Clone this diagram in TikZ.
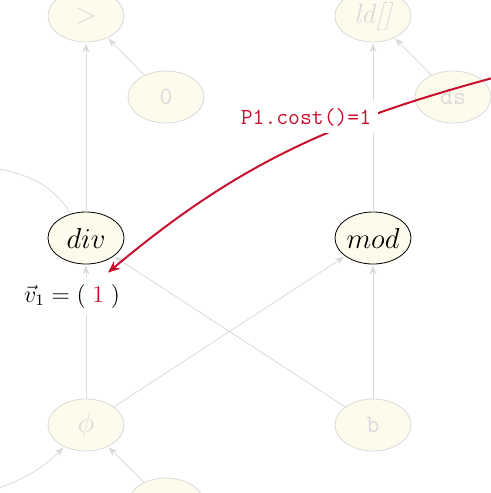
\documentclass[tikz,border=0pt]{standalone}
\usepackage{tikz}
\usetikzlibrary{arrows.meta,shapes.geometric}
\definecolor{costred}{RGB}{200,16,46}
\definecolor{nodefill}{RGB}{253,251,236}
\definecolor{faded}{RGB}{218,218,218}
\def\opwidth{38pt}

\begin{document}
\begin{tikzpicture}[x=0.5pt, y=-0.5pt, shorten >= 0.5pt, ->, draw=faded, >={Stealth[length=4.5pt,width=3.5pt]}]
        \tikzstyle{op}=[ellipse,fill=nodefill,minimum width=\opwidth,minimum height=26pt,inner sep=0pt,font=\fontsize{14}{16}\selectfont];
        \tikzstyle{faded op}=[op, draw=faded, text=faded];
        \tikzstyle{live op}=[op, draw=black];
        \tikzstyle{tt}=[font=\ttfamily\fontsize{12.5}{14}\selectfont];
        \tikzstyle{annot}=[fill=white, inner sep=3.5pt, font=\fontsize{12}{14}\selectfont];
        \useasboundingbox (0,0) rectangle (491,493);

        % faded neighbourhood
        \node[faded op] (gt) at (86,16) {$>$};
        \node[faded op,tt] (zero) at (166,97) {0};
        \node[faded op] (ld) at (373,16) {\itshape ld[]};
        \node[faded op,tt] (ds) at (453,97) {ds};
        \node[faded op] (phi) at (86,425) {$\phi$};
        \node[faded op,tt] (b) at (373,425) {b};
        \node[faded op] (low) at (166,504) {};
        \coordinate (outL) at (-50,162);
        \coordinate (inL) at (-50,505);
        \coordinate (src) at (500,76);
        % the two ops being compared
        \node[live op] (div) at (86,238) {$div$};
        \node[live op] (mod) at (373,238) {$mod$};

        % data dependencies
        \foreach \source/\dest in {div/gt,zero/gt,mod/ld,ds/ld,phi/div,phi/mod,b/div,b/mod,low/phi}
            \path (\source) edge (\dest);
        \path (div) edge[out=122,in=-8] (outL);
        \path (inL) edge[out=20,in=-135] (phi);

        % cost vector and the pass that fills it
        \node[annot] (vec) at (72,296) {$\vec{v}_1 = (\;\textcolor{costred}{1}\;)$};
        \draw[costred, line width=1pt, shorten >=0pt, -{Stealth[length=6pt,width=5pt]}]
            (src) to[out=195,in=40] ([xshift=18pt,yshift=2pt]vec.north);
        \node[annot,text=costred,tt,font=\ttfamily\fontsize{11.5}{14}\selectfont] (cost) at (306,117) {P1.cost()=1};
    \end{tikzpicture}
\end{document}
